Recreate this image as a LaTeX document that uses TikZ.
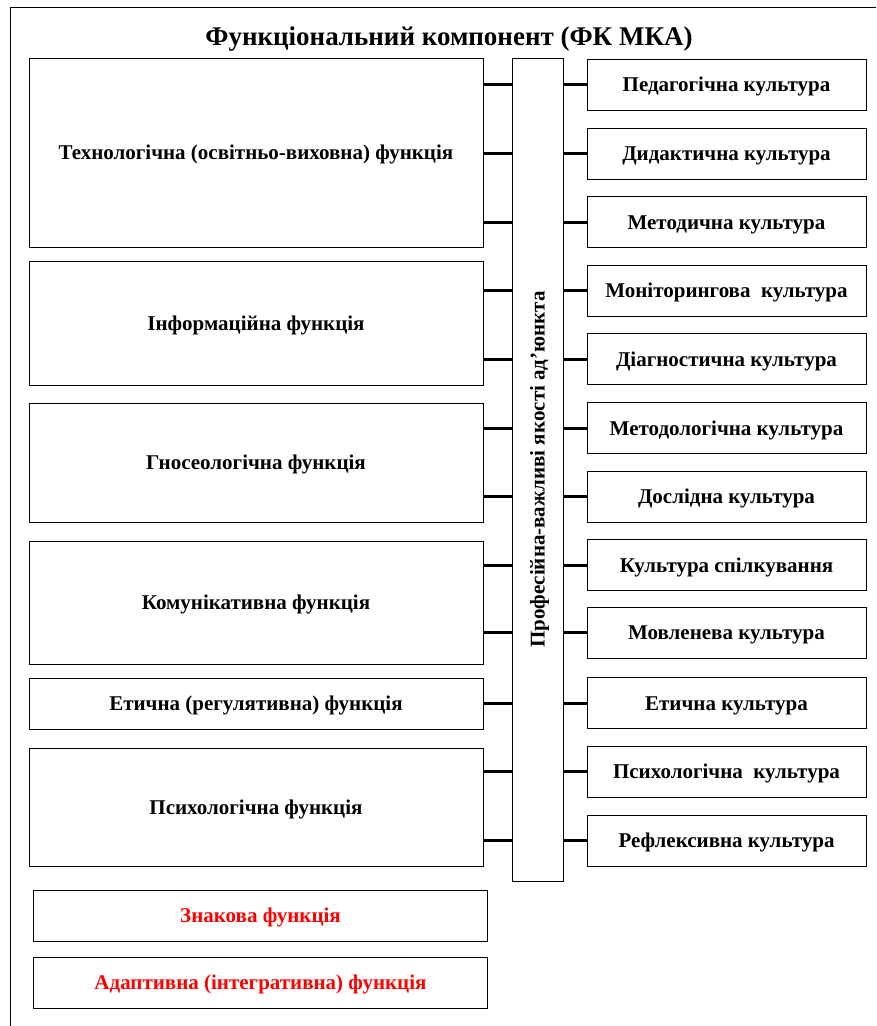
\documentclass[tikz,border=0pt]{standalone}
\usepackage{fontspec}
\setmainfont{Liberation Serif}
\usetikzlibrary{positioning}
\begin{document}
\begin{tikzpicture}[x=1pt,y=-1pt,
  box/.style={draw,line width=1pt,inner sep=0pt,text height=14pt,text depth=0pt,
    font=\bfseries\fontsize{21}{24}\selectfont},
  funcbox/.style={box,minimum width=454pt},
  culbox/.style={box,minimum width=279pt,minimum height=51pt},
  redbox/.style={funcbox,text=red},
  link/.style={line width=3pt}]
\useasboundingbox (0,0) rectangle (876,1026);
% outer frame
\draw[line width=1pt] (10,1026) -- (10,7) -- (876,7);
\node[inner sep=0pt,text height=18pt,text depth=0pt,
  font=\bfseries\fontsize{27}{30}\selectfont] (title) at (449,36) {Функціональний компонент (ФК МКА)};
% functions
\node[funcbox,minimum height=189pt] (tech) at (256,152.5) {Технологічна (освітньо-виховна) функція};
\node[funcbox,minimum height=124pt] (info) at (256,323) {Інформаційна функція};
\node[funcbox,minimum height=119pt] (gnos) at (256,462.5) {Гносеологічна функція};
\node[funcbox,minimum height=123pt] (comm) at (256,602.5) {Комунікативна функція};
\node[funcbox,minimum height=51pt] (ethic) at (256,703.5) {Етична (регулятивна) функція};
\node[funcbox,minimum height=118pt] (psych) at (256,807) {Психологічна функція};
\node[redbox,minimum height=51pt] (sign) at (260.5,915.5) {Знакова функція};
\node[redbox,minimum height=51pt] (adapt) at (260.5,982.5) {Адаптивна (інтегративна) функція};
% qualities
\node[box,minimum width=51pt,minimum height=823pt] (prof) at (537.5,469.5) {};
\node[inner sep=0pt,text height=14pt,text depth=0pt,
  font=\bfseries\fontsize{21}{24}\selectfont,rotate=90] (proflabel) at (prof.center) {Професійна-важливі якості ад'юнкта};
% cultures
\node[culbox] (ped) at (726.5,84.5) {Педагогічна культура};
\node[culbox] (did) at (726.5,153.5) {Дидактична культура};
\node[culbox] (meth) at (726.5,222) {Методична культура};
\node[culbox] (mon) at (726.5,290.5) {Моніторингова\ \ культура};
\node[culbox] (diag) at (726.5,359) {Діагностична культура};
\node[culbox] (mlog) at (726.5,428) {Методологічна культура};
\node[culbox] (res) at (726.5,496.5) {Дослідна культура};
\node[culbox] (talk) at (726.5,565) {Культура спілкування};
\node[culbox] (speech) at (726.5,632.5) {Мовленева культура};
\node[culbox] (ethcul) at (726.5,703) {Етична культура};
\node[culbox] (psycul) at (726.5,771.5) {Психологічна\ \ культура};
\node[culbox] (refl) at (726.5,840.5) {Рефлексивна культура};
% connectors
\foreach \f/\c in {tech/ped,tech/did,tech/meth,info/mon,info/diag,gnos/mlog,gnos/res,
  comm/talk,comm/speech,ethic/ethcul,psych/psycul,psych/refl}{
  \draw[link] (\f.east |- \c) -- (prof.west |- \c);
  \draw[link] (prof.east |- \c) -- (\c.west);
}
\end{tikzpicture}
\end{document}
